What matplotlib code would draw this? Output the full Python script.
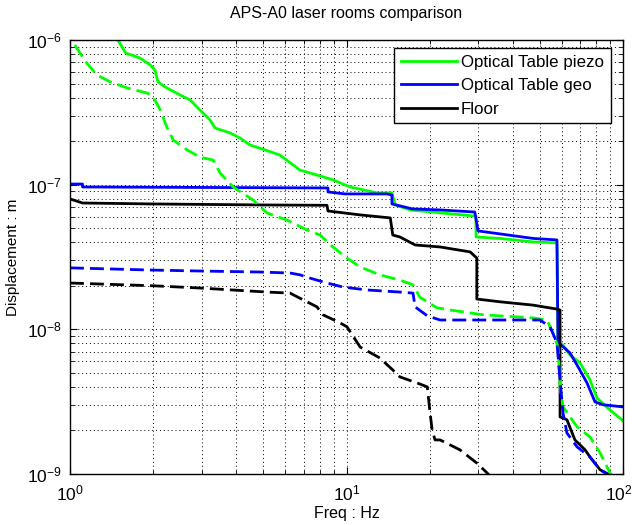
import matplotlib
matplotlib.use("Agg")
import matplotlib.pyplot as plt
import matplotlib.transforms as mtransforms
from matplotlib.ticker import LogLocator, NullFormatter

plt.rcParams['font.family'] = ['Liberation Sans', 'DejaVu Sans']
plt.rcParams['mathtext.fontset'] = 'custom'
plt.rcParams['mathtext.rm'] = 'Liberation Sans'
plt.rcParams['mathtext.it'] = 'Liberation Sans'

# Optical Table piezo (solid = first measurement, dashed = second)
piezo_f = [1.45, 1.49, 1.59, 1.79, 1.95, 2.03, 2.08, 2.21, 2.50, 2.72, 2.95, 3.21, 3.35, 3.79, 4.12,
           4.48, 5.07, 5.75, 6.79, 7.38, 8.93, 10.3, 12.9, 14.6, 15.0, 17.0, 28.7, 29.4, 29.4, 35.9,
           47.3, 57.7, 58.2, 60.7, 64.3, 69.9, 76.0, 80.5, 89.7, 99.1, 100]
piezo_d = [1.05e-6, 1.0e-6, 8.13e-7, 7.51e-7, 6.72e-7, 6.2e-7, 5.13e-7, 4.73e-7, 4.17e-7, 3.85e-7,
           3.28e-7, 2.8e-7, 2.46e-7, 2.28e-7, 2.10e-7, 1.88e-7, 1.74e-7, 1.60e-7, 1.26e-7, 1.205e-7,
           1.08e-7, 9.64e-8, 8.77e-8, 8.77e-8, 7.24e-8, 6.69e-8, 6.08e-8, 6.08e-8, 4.35e-8, 4.25e-8,
           4.02e-8, 3.96e-8, 8.05e-9, 7.8e-9, 6.65e-9, 5.86e-9, 4.47e-9, 3.36e-9, 2.77e-9, 2.37e-9, 2.33e-9]

piezo2_f = [1.04, 1.15, 1.25, 1.40, 1.61, 1.90, 2.00, 2.12, 2.24, 2.36, 2.65, 2.95, 3.29, 3.49, 3.89,
            4.59, 5.16, 6.09, 7.20, 8.02, 8.93, 10.04, 11.2, 13.2, 15.6, 17.4, 18.4, 21.2, 23.7, 31.2,
            47.3, 53.1, 55.8, 58.2, 59.2, 60.7, 68.2, 76.0, 82.6, 89.7, 91.2]
piezo2_d = [9.23e-7, 6.93e-7, 5.73e-7, 5.13e-7, 4.66e-7, 4.30e-7, 4.04e-7, 3.28e-7, 2.50e-7, 2.04e-7,
            1.74e-7, 1.55e-7, 1.48e-7, 1.205e-7, 9.64e-8, 7.84e-8, 6.37e-8, 5.70e-8, 4.86e-8, 4.49e-8,
            3.71e-8, 3.11e-8, 2.70e-8, 2.38e-8, 2.19e-8, 2.03e-8, 1.67e-8, 1.41e-8, 1.36e-8, 1.26e-8,
            1.20e-8, 1.16e-8, 9.45e-9, 7.55e-9, 4.0e-9, 2.91e-9, 2.12e-9, 1.80e-9, 1.40e-9, 1.02e-9, 0.97e-9]

# Optical Table geo
geo_f = [1.0, 1.11, 1.11, 8.36, 8.57, 8.57, 9.88, 14.0, 14.6, 14.6, 17.3, 21.8, 29.1, 29.9, 47.3,
         57.7, 58.2, 59.2, 64.3, 68.8, 74.1, 79.2, 84.7, 100]
geo_d = [1.01e-7, 1.01e-7, 9.64e-8, 9.49e-8, 9.49e-8, 8.91e-8, 8.63e-8, 8.63e-8, 8.49e-8, 7.36e-8,
         6.8e-8, 6.69e-8, 6.47e-8, 4.79e-8, 4.25e-8, 4.15e-8, 8.05e-9, 7.9e-9, 6.87e-9, 5.5e-9,
         4.26e-9, 3.15e-9, 3.01e-9, 2.91e-9]

geo2_f = [1.0, 1.95, 2.95, 4.86, 6.25, 6.79, 7.38, 8.50, 9.71, 11.9, 15.6, 17.4, 17.7, 19.6, 21.8,
          50.1, 54.5, 57.7, 59.2, 60.7, 62.7, 68.2, 76.0, 82.6, 87.5]
geo2_d = [2.66e-8, 2.57e-8, 2.53e-8, 2.49e-8, 2.45e-8, 2.38e-8, 2.26e-8, 2.09e-8, 1.96e-8, 1.87e-8,
          1.81e-8, 1.78e-8, 1.43e-8, 1.24e-8, 1.16e-8, 1.16e-8, 1.04e-8, 8.05e-9, 4.47e-9, 2.64e-9,
          1.92e-9, 1.54e-9, 1.31e-9, 1.07e-9, 1.0e-9]

# Floor
floor_f = [1.0, 1.11, 1.95, 5.0, 8.5, 8.57, 11.2, 14.4, 14.7, 15.6, 17.7, 21.8, 28.0, 29.6, 29.6,
           35.9, 47.3, 57.7, 59.2, 59.2, 62.7, 67.0, 72.9, 76.0, 82.6, 88.3, 91.2]
floor_d = [7.97e-8, 7.47e-8, 7.36e-8, 7.24e-8, 7.2e-8, 6.58e-8, 6.18e-8, 5.89e-8, 4.49e-8, 4.35e-8,
           3.83e-8, 3.71e-8, 3.43e-8, 3.11e-8, 1.62e-8, 1.55e-8, 1.47e-8, 1.38e-8, 1.36e-8, 2.48e-9,
           2.37e-9, 1.72e-9, 1.47e-9, 1.31e-9, 1.07e-9, 1.0e-9, 0.95e-9]

floor2_f = [1.0, 2.00, 2.95, 5.16, 6.25, 6.96, 7.82, 8.22, 9.47, 10.04, 11.2, 13.2, 14.7, 15.6, 18.0,
            19.6, 20.0, 20.4, 20.9, 21.8, 25.7, 29.6, 32.2, 33.0]
floor2_d = [2.09e-8, 2.00e-8, 1.93e-8, 1.81e-8, 1.78e-8, 1.60e-8, 1.43e-8, 1.26e-8, 1.11e-8, 1.04e-8,
            7.55e-9, 6.34e-9, 5.24e-9, 4.69e-9, 4.26e-9, 4.00e-9, 2.77e-9, 2.02e-9, 1.72e-9, 1.72e-9,
            1.47e-9, 1.19e-9, 1.02e-9, 0.97e-9]

GREEN = '#00ff00'
BLUE = '#0000ff'
dash = (0, (5, 2.2))
lw = 2.0

fig = plt.figure(figsize=(6.33, 5.25), dpi=100)
ax = fig.add_axes([70/633, 51/525, 553/633, 434/525])

ax.loglog(piezo_f, piezo_d, color=GREEN, lw=lw, label='Optical Table piezo')
ax.loglog(geo_f, geo_d, color=BLUE, lw=lw, label='Optical Table geo')
ax.loglog(floor_f, floor_d, color='k', lw=lw, label='Floor')
ax.loglog(piezo2_f, piezo2_d, color=GREEN, lw=lw, ls=dash)
ax.loglog(geo2_f, geo2_d, color=BLUE, lw=lw, ls=dash)
ax.loglog(floor2_f, floor2_d, color='k', lw=lw, ls=dash)

ax.set_xlim(1, 100)
ax.set_ylim(1e-9, 1e-6)
ax.xaxis.set_minor_locator(LogLocator(base=10, subs=range(2, 10)))
ax.yaxis.set_minor_locator(LogLocator(base=10, subs=range(2, 10)))
ax.xaxis.set_minor_formatter(NullFormatter())
ax.yaxis.set_minor_formatter(NullFormatter())

ax.grid(True, which='both', color='k', linestyle=(0, (1, 3)), linewidth=0.7)
ax.tick_params(which='both', direction='in', top=True, right=True, labelsize=12.5)
ax.tick_params(which='major', length=5)
ax.tick_params(which='minor', length=3)
ax.tick_params(axis='x', pad=7)
ax.tick_params(axis='y', pad=6)
for s in ax.spines.values():
    s.set_linewidth(1.0)

ax.set_title('APS-A0 laser rooms comparison', fontsize=11.5, pad=16)
ax.set_xlabel('Freq : Hz', fontsize=11.5, labelpad=2)
ax.set_ylabel('Displacement : m', fontsize=11, labelpad=5)

leg = ax.legend(loc='upper right', bbox_to_anchor=(0.978, 0.982), borderaxespad=0,
                fontsize=12.2, fancybox=False, framealpha=1, edgecolor='k',
                handlelength=3.3, labelspacing=0.5, borderpad=0.4, handletextpad=0.25)
leg.get_frame().set_linewidth(1.0)

# keep the last x label inside the figure
fig.canvas.draw()
shift = mtransforms.ScaledTranslation(-4/100, 0, fig.dpi_scale_trans)
for lab in ax.get_xticklabels():
    if lab.get_position()[0] == 100:
        lab.set_transform(lab.get_transform() + shift)

fig.savefig('out.png', dpi=100)
